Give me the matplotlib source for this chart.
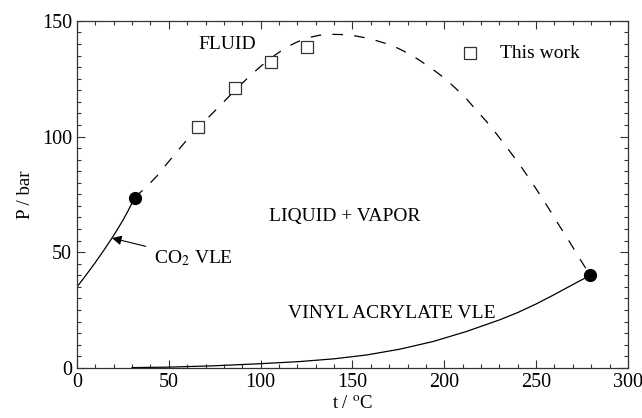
import matplotlib
matplotlib.use("Agg")
import matplotlib.pyplot as plt
from matplotlib.ticker import MultipleLocator

plt.rcParams["font.family"] = ["Liberation Serif", "DejaVu Serif"]
plt.rcParams["mathtext.fontset"] = "stix"

# CO2 vapour pressure curve (t / degC, P / bar)
co2_t = [0, 5, 10, 15, 20, 25, 28, 31.4]
co2_p = [35, 40.2, 45.6, 51.3, 57.3, 63.8, 68.2, 73.6]

# vinyl acrylate vapour pressure curve
va_t = [30, 50, 75, 100, 121, 140, 158, 176, 194, 212, 230, 240, 250, 260,
        270, 279.5]
va_p = [0.1, 0.3, 0.9, 1.8, 2.7, 3.9, 5.6, 8.1, 11.4, 15.7, 20.7, 23.9, 27.6,
        31.7, 36, 40]

# critical points of the pure components
crit_t = [31.4, 279.5]
crit_p = [73.6, 40]

# mixture critical line (dashed)
cl_t = [31.4, 38.5, 43.6, 49, 54, 59.5, 65, 70.4, 76.2, 86, 95.3, 100.7,
        107.8, 114.2, 120.5, 126.9, 132, 138.7, 144, 151, 157, 163, 169.5,
        175, 182, 188, 194, 200, 206, 212, 217, 223, 228, 233, 237, 242, 246,
        250, 254, 258, 262, 266, 270, 274, 279.5]
cl_p = [73.6, 78.8, 83, 88.3, 93.1, 98.2, 103, 107.4, 112, 120, 127.1, 130.8,
        135.2, 138.7, 141.1, 142.9, 143.8, 144.2, 144.1, 143.6, 142.7, 141.5,
        139.9, 138.1, 135.3, 132.2, 128.9, 125.3, 121, 116.4, 111.8, 106.5,
        101.6, 96.4, 92.2, 86.8, 82.2, 77.4, 72.5, 67.5, 62.3, 57.3, 52.2,
        46.9, 40]

# measured critical points, "This work"
exp_t = [65.9, 86, 105.8, 125.5]
exp_p = [104, 120.9, 132.4, 138.7]

fig = plt.figure(figsize=(6.42, 4.18), dpi=100)
ax = fig.add_axes([0.12, 0.12, 0.858, 0.83])

ax.plot(co2_t, co2_p, color="black", lw=0.9)
ax.plot(va_t, va_p, color="black", lw=0.9)
ax.plot(cl_t, cl_p, color="black", lw=0.9, dashes=(8.5, 9))
ax.plot(crit_t, crit_p, "o", color="black", ms=8.5)
ax.plot(exp_t, exp_p, "s", mfc="white", mec="#333333", mew=0.9, ms=8.5)

# legend entry drawn by hand, as in the original
ax.plot([214], [136], "s", mfc="white", mec="#333333", mew=0.9, ms=8.5)
ax.text(230.3, 136, "This work", fontsize=14, va="center")

ax.text(65.9, 140, "FLUID", fontsize=14, va="center")
ax.text(104.4, 65.4, "LIQUID + VAPOR", fontsize=14, va="center")
ax.text(115, 23.7, "VINYL ACRYLATE VLE", fontsize=14, va="center")
ax.annotate(r"CO$_2$ VLE", xy=(19, 56.1), xytext=(41.9, 47.5), fontsize=14,
            va="center",
            arrowprops=dict(arrowstyle="-|>", color="black", lw=0.8,
                            mutation_scale=14, shrinkA=4, shrinkB=0))

ax.set_xlim(0, 300)
ax.set_ylim(0, 150)
ax.xaxis.set_major_locator(MultipleLocator(50))
ax.xaxis.set_minor_locator(MultipleLocator(10))
ax.yaxis.set_major_locator(MultipleLocator(50))
ax.yaxis.set_minor_locator(MultipleLocator(5))
ax.tick_params(which="both", direction="in", top=True, right=True,
               labelsize=14.5, width=0.8, color="#333333")
ax.tick_params(which="major", length=6)
ax.tick_params(which="minor", length=3)
for s in ax.spines.values():
    s.set_linewidth(0.9)
    s.set_color("#333333")

ax.set_xlabel("t / $^{\\mathrm{o}}$C", fontsize=13.5, labelpad=3)
ax.set_ylabel("P / bar", fontsize=13.5, labelpad=6)

fig.savefig("out.png", dpi=100)
